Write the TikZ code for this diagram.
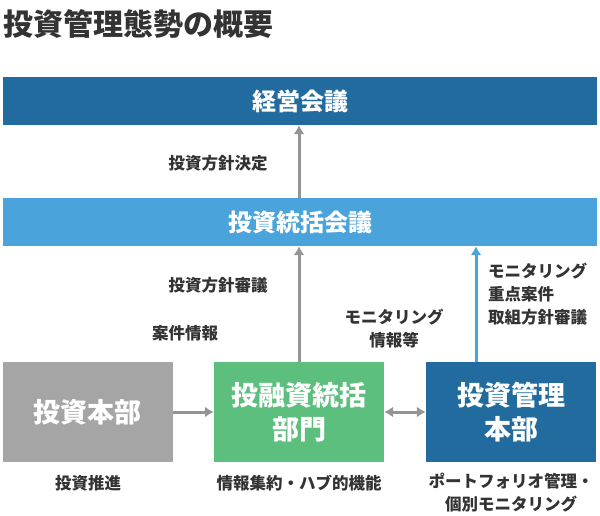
\documentclass[tikz,border=0pt]{standalone}
\usepackage{fontspec}
\setmainfont{Noto Sans CJK JP}
\usepackage{xcolor}
\usetikzlibrary{positioning}
\definecolor{darkblue}{HTML}{226B9E}
\definecolor{lightblue}{HTML}{4AA3DB}
\definecolor{midgray}{HTML}{A5A5A5}
\definecolor{darkgray}{HTML}{949494}
\definecolor{midgreen}{HTML}{5CBF7D}
\colorlet{textgray}{black!80}

\tikzset{
    wide/.style={minimum width=594pt, minimum height=48pt, inner sep=0pt,
        text=white, font=\bfseries\fontsize{24}{28}\selectfont},
    unit/.style={minimum width=170pt, minimum height=100pt, inner sep=0pt, align=center,
        text=white, font=\bfseries\fontsize{27}{34}\selectfont},
    note/.style={text=textgray, align=center, inner sep=0pt, font=\bfseries\fontsize{16.5}{23}\selectfont},
    flow/.style={line width=3pt, -{Latex[length=9pt, width=11pt]}, draw=darkgray}
}
\usetikzlibrary{arrows.meta}

\begin{document}
\begin{tikzpicture}[x=1pt, y=-1pt]
    \useasboundingbox (0, 0) rectangle (600, 515);
    \node[anchor=west, inner sep=0pt, font=\bfseries\fontsize{30}{34}\selectfont, text=textgray] (title) at (3, 24) {投資管理態勢の概要};

    % top rows
    \node[wide, fill=darkblue] (board) at (300, 101) {経営会議};
    \node[wide, fill=lightblue] (council) at (300, 222) {投資統括会議};

    % bottom units
    \node[unit, fill=midgray] (invest) at (88, 412) {投資本部};
    \node[unit, fill=midgreen] (hub) at (299, 412) {投融資統括\\部門};
    \node[unit, fill=darkblue] (manage) at (511, 412) {投資管理\\本部};

    % connectors
    \draw[flow] (council.north -| hub) -- (board.south -| hub);
    \draw[flow] (hub.north) -- (council.south -| hub);
    \draw[flow, draw=lightblue] (manage.north -| 476, 0) -- (council.south -| 476, 0);
    \draw[flow] (invest.east) -- (hub.west);
    \draw[flow, {Latex[length=9pt, width=11pt]}-{Latex[length=9pt, width=11pt]}] (hub.east) -- (manage.west);

    % labels
    \node[note] (decide) at (218, 163) {投資方針決定};
    \node[note] (review) at (218, 285) {投資方針審議};
    \node[note] (cases) at (185, 333) {案件情報};
    \node[note] (monitor) at (394, 329) {モニタリング\\情報等};
    \node[note, anchor=west, align=left] (focus) at (488, 294) {モニタリング\\重点案件\\取組方針審議};
    \node[note] (promo) at (88, 483) {投資推進};
    \node[note] (gather) at (299, 483) {情報集約・ハブ的機能};
    \node[note] (portfolio) at (511, 493) {ポートフォリオ管理・\\個別モニタリング};
\end{tikzpicture}
\end{document}
